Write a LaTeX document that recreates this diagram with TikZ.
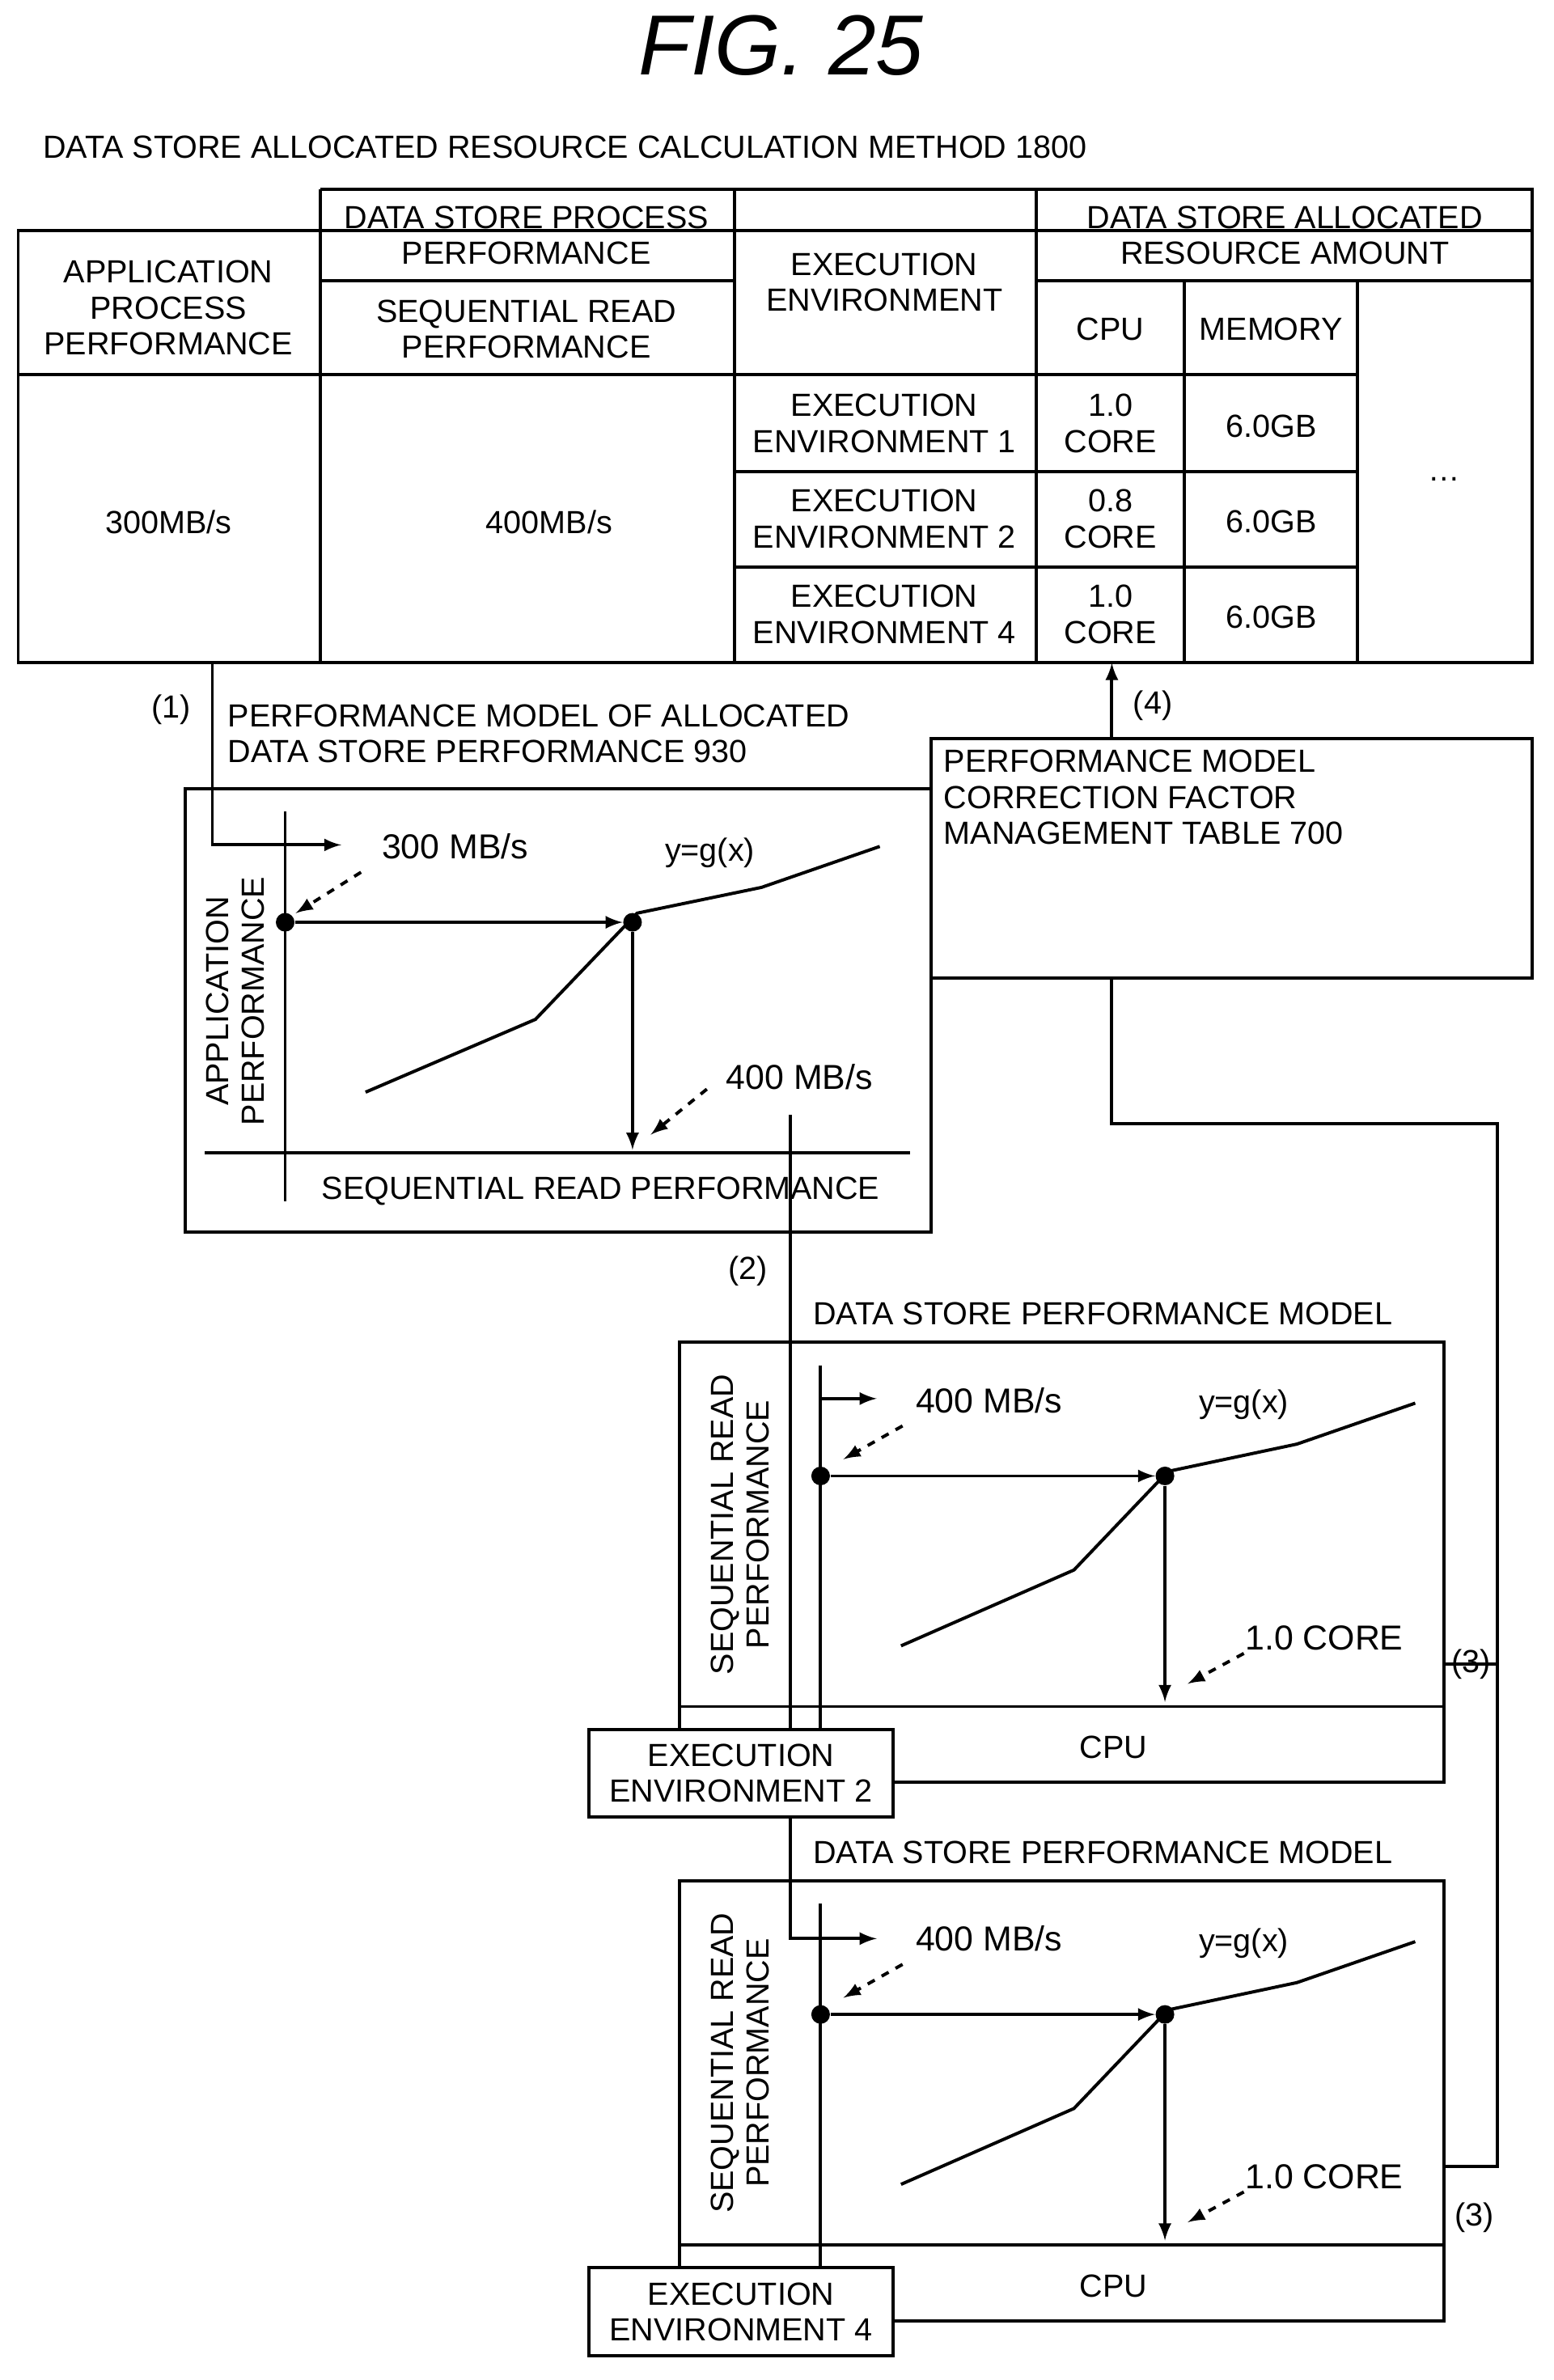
\documentclass[tikz,border=0pt]{standalone}
\usepackage{fontspec}
\setmainfont{Liberation Sans}
\usetikzlibrary{positioning}
\begin{document}
\begin{tikzpicture}[x=0.02cm,y=-0.02cm,
    txt/.style={font=\fontsize{12}{13.5}\selectfont,align=center,inner sep=0pt},
    lbl/.style={font=\fontsize{12}{13.5}\selectfont,align=left,inner sep=0pt,anchor=west},
    big/.style={font=\fontsize{13}{15}\selectfont,inner sep=0pt},
    line/.style={line width=1.2pt},
    arr/.style={line width=1.2pt,-latex},
    darr/.style={line width=1.2pt,dashed,-latex},
    dot/.style={circle,fill,inner sep=0pt,minimum size=7pt},
  ]
    \useasboundingbox (0,0) rectangle (1024,1569);
    \node [font=\itshape\fontsize{32}{34}\selectfont] (fig) at (515,30) {FIG. 25};
    \node [lbl] (method) at (28,97) {DATA STORE ALLOCATED RESOURCE CALCULATION METHOD 1800};

    % table
    \draw [line] (12,152) rectangle (1010,437);
    \draw [line] (211,125) -- (1010,125) -- (1010,152);
    \draw [line] (211,125) -- (211,437);
    \draw [line] (484,125) -- (484,437);
    \draw [line] (683,125) -- (683,437);
    \draw [line] (211,185) -- (484,185);
    \draw [line] (683,185) -- (1010,185);
    \draw [line] (12,247) -- (895,247);
    \draw [line] (781,185) -- (781,437);
    \draw [line] (895,185) -- (895,437);
    \draw [line] (484,311) -- (895,311);
    \draw [line] (484,374) -- (895,374);
    \node [txt] (hApp) at (111,203) {APPLICATION\\PROCESS\\PERFORMANCE};
    \node [txt] (hDs) at (347,155) {DATA STORE PROCESS\\PERFORMANCE};
    \node [txt] (hSeq) at (347,217) {SEQUENTIAL READ\\PERFORMANCE};
    \node [txt] (hEnv) at (583,186) {EXECUTION\\ENVIRONMENT};
    \node [txt] (hRes) at (847,155) {DATA STORE ALLOCATED\\RESOURCE AMOUNT};
    \node [txt] (hCpu) at (732,217) {CPU};
    \node [txt] (hMem) at (838,217) {MEMORY};
    \node [txt] (vApp) at (111,344) {300MB/s};
    \node [txt] (vSeq) at (362,344) {400MB/s};
    \node [txt] (env1) at (583,279) {EXECUTION\\ENVIRONMENT 1};
    \node [txt] (env2) at (583,342) {EXECUTION\\ENVIRONMENT 2};
    \node [txt] (env4) at (583,405) {EXECUTION\\ENVIRONMENT 4};
    \node [txt] (cpu1) at (732,279) {1.0\\CORE};
    \node [txt] (cpu2) at (732,342) {0.8\\CORE};
    \node [txt] (cpu4) at (732,405) {1.0\\CORE};
    \node [txt] (mem1) at (838,281) {6.0GB};
    \node [txt] (mem2) at (838,344) {6.0GB};
    \node [txt] (mem4) at (838,407) {6.0GB};
    \node [txt] (more) at (952,316) {\dots};

    % correction factor table
    \node [draw,line,minimum width=396*0.02cm,minimum height=158*0.02cm,inner sep=0pt] (corr) at (812,566) {};
    \node [lbl,anchor=north west] (corrT) at (622,494) {PERFORMANCE MODEL\\CORRECTION FACTOR\\MANAGEMENT TABLE 700};
    \coordinate (tab4) at (733,437);
    \draw [arr] (corr.north -| tab4) -- (tab4);
    \node [txt] (l4) at (760,465) {(4)};

    % model 930
    \node [lbl,anchor=north west] (m1T) at (150,464) {PERFORMANCE MODEL OF ALLOCATED\\DATA STORE PERFORMANCE 930};
    \node [draw,line,minimum width=492*0.02cm,minimum height=292*0.02cm,inner sep=0pt] (m1) at (368,666) {};
    \coordinate (s1) at (140,437);
    \coordinate (e1) at (225,557);
    \draw [arr] (s1) |- (e1);
    \node [txt] (l1) at (113,468) {(1)};
    \draw [line] (188,535) -- (188,792);
    \draw [line] (135,760) -- (600,760);
    \node [txt,rotate=90] (m1Y) at (155,660) {APPLICATION\\PERFORMANCE};
    \node [txt] (m1X) at (396,785) {SEQUENTIAL READ PERFORMANCE};
    \draw [line] (241,720) -- (353,672) -- (420,602) -- (502,585) -- (580,558);
    \node [dot] (a1) at (188,608) {};
    \node [dot] (b1) at (417,608) {};
    \draw [arr] (a1) -- (b1);
    \coordinate (c1) at (417,758);
    \draw [arr] (b1) -- (c1);
    \node [txt] (g1) at (468,562) {y=g(x)};
    \node [big] (v1) at (300,558) {300 MB/s};
    \draw [darr] (238,575) -- (195,602);
    \node [big] (w1) at (527,710) {400 MB/s};
    \draw [darr] (466,718) -- (429,748);

    % line (2)
    \coordinate (s2) at (521,735);
    \coordinate (e2) at (578,1278);
    \draw [arr] (s2) |- (e2);
    \node [txt] (l2) at (493,838) {(2)};

    % models for environments 2 and 4
    \foreach \dy/\env/\name in {0/2/m2,355/4/m3} {
      \begin{scope}[yshift=-\dy*0.02cm]
        \node [txt] (\name T) at (727,866) {DATA STORE PERFORMANCE MODEL};
        \draw [line] (448,885) rectangle (952,1175);
        \draw [line] (541,900) -- (541,1170);
        \draw [line] (448,1125) -- (952,1125);
        \node [txt,rotate=90] (\name Y) at (488,1005) {SEQUENTIAL READ\\PERFORMANCE};
        \node [txt] (\name X) at (734,1152) {CPU};
        \draw [line] (594,1085) -- (708,1035) -- (770,970) -- (855,952) -- (933,925);
        \node [dot] (\name a) at (541,973) {};
        \node [dot] (\name b) at (768,973) {};
        \draw [arr] (\name a) -- (\name b);
        \coordinate (\name c) at (768,1122);
        \draw [arr] (\name b) -- (\name c);
        \node [txt] (\name g) at (820,926) {y=g(x)};
        \node [big] (\name v) at (652,923) {400 MB/s};
        \draw [darr] (595,940) -- (556,962);
        \node [big] (\name w) at (873,1080) {1.0 CORE};
        \draw [darr] (820,1090) -- (783,1110);
        \node [draw,line,fill=white,txt,minimum width=201*0.02cm,minimum height=58*0.02cm] (\name E) at (488.5,1169) {EXECUTION\\ENVIRONMENT \env};
      \end{scope}
    }
    \draw [arr] (541,922) -- (578,922);

    % line (3)
    \coordinate (k1) at (987,741);
    \coordinate (k2) at (952,1428);
    \draw [line] (corr.south -| tab4) |- (k1) |- (k2);
    \coordinate (k3) at (952,1097);
    \draw [line] (k3) -- (k3 -| k1);
    \node [txt] (l3a) at (970,1097) {(3)};
    \node [txt] (l3b) at (972,1462) {(3)};
\end{tikzpicture}
\end{document}
